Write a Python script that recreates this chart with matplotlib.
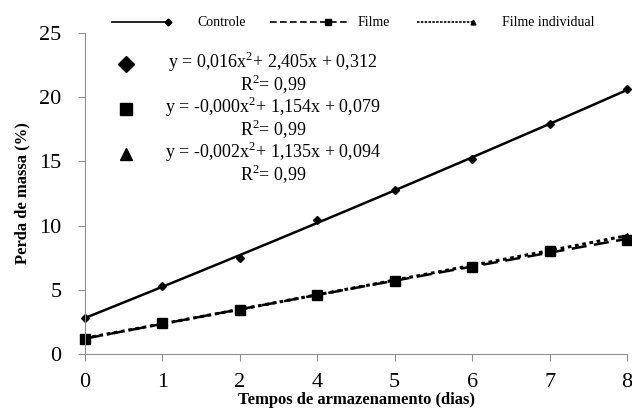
import numpy as np
import matplotlib.pyplot as plt
from matplotlib.lines import Line2D

# dias de armazenamento (eixo categórico)
dias = ['0', '1', '2', '4', '5', '6', '7', '8']
controle = [2.8, 5.3, 7.5, 10.4, 12.8, 15.2, 17.9, 20.6]
filme = [1.2, 2.4, 3.4, 4.6, 5.7, 6.8, 8.0, 8.9]
filme_ind = [1.2, 2.4, 3.5, 4.6, 5.7, 6.9, 8.1, 9.2]

series_names = ['Controle', 'Filme', 'Filme individual']
eqs = ['y = 0,016x$^2$+ 2,405x + 0,312',
       'y = -0,000x$^2$+ 1,154x + 0,079',
       'y = -0,002x$^2$+ 1,135x + 0,094']

plt.rcParams['font.family'] = ['Liberation Serif', 'DejaVu Serif']
plt.rcParams['mathtext.fontset'] = 'custom'
plt.rcParams['mathtext.rm'] = 'Liberation Serif'

W, H = 632, 418
fig = plt.figure(figsize=(W / 100, H / 100), dpi=100)
ax = fig.add_axes([85 / W, 1 - 354 / H, 542 / W, 321 / H])

pos = np.arange(len(dias))
xs = np.linspace(0, len(dias) - 1, 100)

def trend(vals):
    c = np.polyfit(pos, vals, 2)
    return np.polyval(c, xs)

ax.plot(xs, trend(controle), color='black', lw=1.8, clip_on=False)
ax.plot(pos, controle, 'D', color='black', ms=4.5, clip_on=False)
ax.plot(xs, trend(filme), color='black', lw=1.8, ls=(0, (6, 3)), clip_on=False)
ax.plot(xs, trend(filme_ind), color='black', lw=2.2, ls=(0, (1.2, 1.2)), clip_on=False)
ax.plot(pos, filme_ind, '^', color='black', ms=5, clip_on=False)
ax.plot(pos, filme, 's', color='black', ms=6.5, clip_on=False)

ax.set_xlim(0, len(dias) - 1)
ax.set_ylim(0, 25)
ax.set_xticks(pos)
ax.set_xticklabels(dias)
ax.set_yticks([0, 5, 10, 15, 20, 25])
for s in ['top', 'right']:
    ax.spines[s].set_visible(False)
for s in ['left', 'bottom']:
    ax.spines[s].set_color('#909090')
ax.tick_params(colors='#909090', labelcolor='black', labelsize=16, length=5)
ax.tick_params(axis='x', pad=9)
ax.tick_params(axis='y', pad=12)

ax.set_ylabel('Perda de massa (%)', fontsize=12, fontweight='bold', labelpad=6)
ax.set_xlabel('Tempos de armazenamento (dias)', fontsize=12, fontweight='bold', labelpad=0)

# legenda no topo (desenhada à mão, como no original)
ly = 1 - 22 / H
leg = [  # (inicio, fim, pos. marcador, marcador, estilo, x texto)
    (112, 168, 168, 'D', '-', 197),
    (270, 347, 328, 's', (0, (4, 2)), 358),
    (417, 475, 473, '^', (0, (1.5, 0.8)), 502),
]
for (x0, x1, xm, m, ls, xt), name in zip(leg, series_names):
    fig.add_artist(Line2D([x0 / W, x1 / W], [ly, ly], color='black', lw=1.2, ls=ls,
                          transform=fig.transFigure))
    fig.add_artist(Line2D([xm / W], [ly], marker=m, color='black', ms=4 if m == 's' else 3.5,
                          transform=fig.transFigure))
    fig.text(xt / W, ly, name, fontsize=10, ha='left', va='center')

# equações
markers = ['D', 's', '^']
ypos = [62, 107, 152]
for m, e, y in zip(markers, eqs, ypos):
    fig.add_artist(Line2D([126 / W], [1 - (y + 2) / H], marker=m, color='black',
                          ms=8 if m == 'D' else 9, transform=fig.transFigure))
    fig.text(273 / W, 1 - y / H, e, fontsize=13, ha='center', va='center')
    fig.text(273 / W, 1 - (y + 22) / H, 'R$^2$= 0,99', fontsize=13, ha='center', va='center')

fig.savefig('out.png', dpi=100)
